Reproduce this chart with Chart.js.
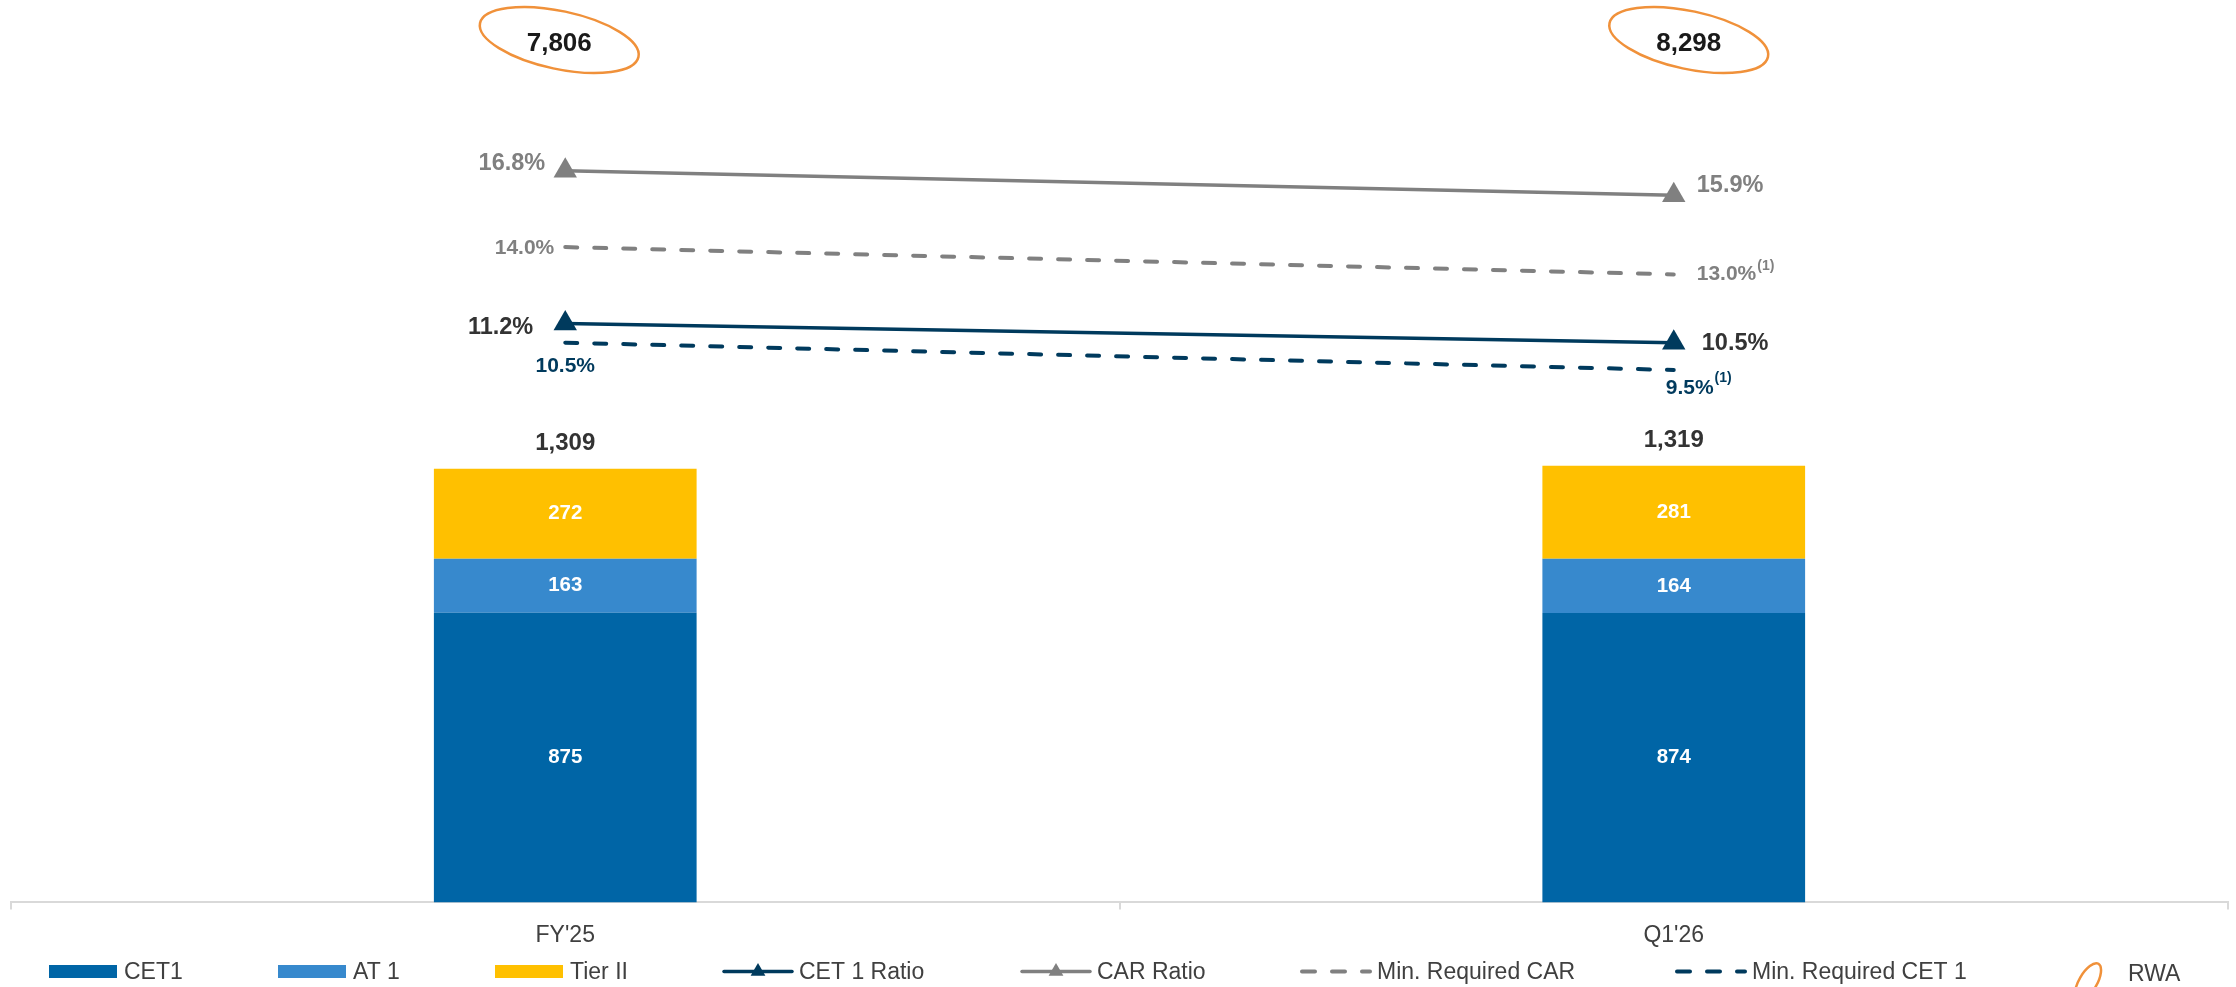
<!DOCTYPE html>
<html lang="en">
<head>
<meta charset="UTF-8">
<title>Capital Adequacy</title>
<script src="https://cdn.jsdelivr.net/npm/chart.js"></script>
<style>
    body {
        margin: 0;
        padding: 0;
        background-color: #ffffff;
    }
    .chart-box {
        position: relative;
        width: 2236px;
        height: 987px;
    }
</style>
</head>
<body>
<div class="chart-box"><canvas id="capitalChart"></canvas></div>

<script>
// periods on the x axis
var periods = ["FY'25", "Q1'26"];

// capital stack (bars)
var cet1 = [875, 874];
var at1 = [163, 164];
var tier2 = [272, 281];
var totalCapital = [1309, 1319];

// ratios in %
var cet1Ratio = [11.2, 10.5];
var carRatio = [16.8, 15.9];
var minCar = [14.0, 13.0];
var minCet1 = [10.5, 9.5];
var minNotes = ['', '(1)'];

// risk weighted assets (ellipses on top)
var rwa = [7806, 8298];

var FONT = '"Liberation Sans", Arial, sans-serif';
var NAVY = '#003a5d';
var GRAY = '#808080';
var DARK = '#333333';
var ORANGE = '#f0913a';

function fmt(n) {
    return n.toLocaleString('en-US');
}

// numbers on the bars, totals on top and % next to the line points
var valueLabels = {
    id: 'valueLabels',
    afterDatasetsDraw: function(chart) {
        var ctx = chart.ctx;
        ctx.save();
        ctx.textBaseline = 'middle';
        var lastBar = null;
        chart.data.datasets.forEach(function(ds, di) {
            var meta = chart.getDatasetMeta(di);
            if (ds.type === 'bar') {
                lastBar = meta;
                ctx.font = 'bold 20.5px ' + FONT;
                ctx.fillStyle = '#ffffff';
                ctx.textAlign = 'center';
                meta.data.forEach(function(el, i) {
                    var p = el.getProps(['x', 'y', 'base'], true);
                    ctx.fillText(fmt(ds.data[i]), p.x, (p.y + p.base) / 2);
                });
                return;
            }
            var lc = ds.labelCfg;
            meta.data.forEach(function(el, i) {
                var p = el.getProps(['x', 'y'], true);
                var spot = lc.spots[i];
                var txt = ds.data[i].toFixed(1) + '%';
                ctx.font = 'bold ' + lc.size + 'px ' + FONT;
                ctx.fillStyle = lc.color;
                ctx.textAlign = spot.align;
                var tx = p.x + spot.dx, ty = p.y + spot.dy;
                ctx.fillText(txt, tx, ty);
                if (lc.notes && lc.notes[i]) {
                    var w = ctx.measureText(txt).width;
                    var startX = spot.align === 'left' ? tx + w : (spot.align === 'center' ? tx + w / 2 : tx);
                    ctx.font = 'bold 14px ' + FONT;
                    ctx.textAlign = 'left';
                    ctx.fillText(lc.notes[i], startX + 1, ty - lc.noteLift);
                }
            });
        });
        if (lastBar) {
            ctx.font = 'bold 24px ' + FONT;
            ctx.fillStyle = DARK;
            ctx.textAlign = 'center';
            lastBar.data.forEach(function(el, i) {
                var p = el.getProps(['x', 'y'], true);
                ctx.fillText(fmt(totalCapital[i]), p.x, p.y - 25);
            });
        }
        ctx.restore();
    }
};

// RWA ellipses above each period
var rwaBubbles = {
    id: 'rwaBubbles',
    afterDraw: function(chart, args, opts) {
        var ctx = chart.ctx;
        var xs = chart.scales.x;
        ctx.save();
        rwa.forEach(function(v, i) {
            var cx = xs.getPixelForValue(i) + opts.shift[i];
            ctx.beginPath();
            ctx.ellipse(cx, 40, 81, 29, 0.21, 0, Math.PI * 2);
            ctx.strokeStyle = ORANGE;
            ctx.lineWidth = 2.5;
            ctx.stroke();
            ctx.font = 'bold 26px ' + FONT;
            ctx.fillStyle = '#1a1a1a';
            ctx.textAlign = 'center';
            ctx.textBaseline = 'middle';
            ctx.fillText(fmt(v), cx, 44);
        });
        ctx.restore();
    }
};

// legend row along the bottom
var bottomLegend = {
    id: 'bottomLegend',
    afterDraw: function(chart, args, opts) {
        var ctx = chart.ctx;
        var y = 971.5;
        ctx.save();
        chart.data.datasets.forEach(function(ds, i) {
            var x = opts.slots[i];
            if (ds.type === 'bar') {
                ctx.fillStyle = ds.backgroundColor;
                ctx.fillRect(x, y - 6.5, 68, 13);
            } else {
                ctx.strokeStyle = ds.borderColor;
                ctx.lineCap = 'round';
                if (ds.borderDash) {
                    ctx.lineWidth = 4;
                    ctx.setLineDash([13, 17]);
                } else {
                    ctx.lineWidth = 3.5;
                    ctx.setLineDash([]);
                }
                ctx.beginPath();
                ctx.moveTo(x + 2, y);
                ctx.lineTo(x + 70, y);
                ctx.stroke();
                ctx.setLineDash([]);
                if (ds.pointRadius) {
                    var cx = x + 36, r = 8.5;
                    ctx.fillStyle = ds.borderColor;
                    ctx.beginPath();
                    ctx.moveTo(cx, y - r);
                    ctx.lineTo(cx + r * 0.866, y + r / 2);
                    ctx.lineTo(cx - r * 0.866, y + r / 2);
                    ctx.closePath();
                    ctx.fill();
                }
            }
            ctx.font = '23px ' + FONT;
            ctx.fillStyle = '#404040';
            ctx.textAlign = 'left';
            ctx.textBaseline = 'middle';
            ctx.fillText(ds.label, x + (ds.type === 'bar' ? 75 : 77), y + 1);
        });
        // RWA marker
        var rx = opts.slots[chart.data.datasets.length];
        ctx.beginPath();
        ctx.ellipse(rx + 20, 982, 21, 9, -1.05, 0, Math.PI * 2);
        ctx.strokeStyle = ORANGE;
        ctx.lineWidth = 2.5;
        ctx.stroke();
        ctx.font = '23px ' + FONT;
        ctx.fillStyle = '#404040';
        ctx.textAlign = 'left';
        ctx.textBaseline = 'middle';
        ctx.fillText('RWA', rx + 60, 975);
        ctx.restore();
    }
};

var ctx = document.getElementById('capitalChart').getContext('2d');
new Chart(ctx, {
    data: {
        labels: periods,
        datasets: [
            { type: 'bar', label: 'CET1', data: cet1, backgroundColor: '#0065a6', order: 2, yAxisID: 'y' },
            { type: 'bar', label: 'AT 1', data: at1, backgroundColor: '#3789cd', order: 2, yAxisID: 'y' },
            { type: 'bar', label: 'Tier II', data: tier2, backgroundColor: '#ffc000', order: 2, yAxisID: 'y' },
            {
                type: 'line', label: 'CET 1 Ratio', data: cet1Ratio, yAxisID: 'y2', order: 1,
                borderColor: NAVY, borderWidth: 3.5, tension: 0,
                pointStyle: 'triangle', pointRadius: 13.5, pointBackgroundColor: NAVY, pointBorderWidth: 0,
                labelCfg: { color: DARK, size: 23.5, spots: [{ dx: -32, dy: 4, align: 'right' }, { dx: 28, dy: 1, align: 'left' }] }
            },
            {
                type: 'line', label: 'CAR Ratio', data: carRatio, yAxisID: 'y2', order: 1,
                borderColor: GRAY, borderWidth: 3.5, tension: 0,
                pointStyle: 'triangle', pointRadius: 13.5, pointBackgroundColor: GRAY, pointBorderWidth: 0,
                labelCfg: { color: GRAY, size: 23.5, spots: [{ dx: -20, dy: -7, align: 'right' }, { dx: 23, dy: -10, align: 'left' }] }
            },
            {
                type: 'line', label: 'Min. Required CAR', data: minCar, yAxisID: 'y2', order: 1,
                borderColor: GRAY, borderWidth: 4, borderDash: [12, 17], borderCapStyle: 'round', pointRadius: 0,
                labelCfg: { color: GRAY, size: 21, notes: minNotes, noteLift: 8, spots: [{ dx: -11, dy: 1, align: 'right' }, { dx: 23, dy: 0, align: 'left' }] }
            },
            {
                type: 'line', label: 'Min. Required CET 1', data: minCet1, yAxisID: 'y2', order: 1,
                borderColor: NAVY, borderWidth: 4, borderDash: [12, 17], borderCapStyle: 'round', pointRadius: 0,
                labelCfg: { color: NAVY, size: 21, notes: minNotes, noteLift: 10, spots: [{ dx: 0, dy: 24, align: 'center' }, { dx: -8, dy: 18, align: 'left' }] }
            }
        ]
    },
    options: {
        responsive: true,
        maintainAspectRatio: false,
        animation: false,
        layout: { autoPadding: false, padding: { left: 11, right: 8, top: 0, bottom: 26 } },
        datasets: {
            bar: { categoryPercentage: 1, barPercentage: 0.237 }
        },
        plugins: {
            legend: { display: false },
            tooltip: { enabled: false },
            rwaBubbles: { shift: [-6, 15] },
            bottomLegend: { slots: [49, 278, 495, 722, 1020, 1300, 1675, 2068] }
        },
        scales: {
            x: {
                stacked: true,
                border: { display: true, color: '#d9d9d9', width: 2 },
                grid: { offset: true, drawOnChartArea: false, drawTicks: true, tickLength: 7, color: '#d9d9d9', lineWidth: 2 },
                ticks: { color: '#404040', padding: 12, font: { family: FONT, size: 23 } }
            },
            y: { display: false, stacked: true, min: 0, max: 2726 },
            y2: { display: false, stacked: false, min: -10, max: 23.05 }
        }
    },
    plugins: [valueLabels, rwaBubbles, bottomLegend]
});
</script>
</body>
</html>
